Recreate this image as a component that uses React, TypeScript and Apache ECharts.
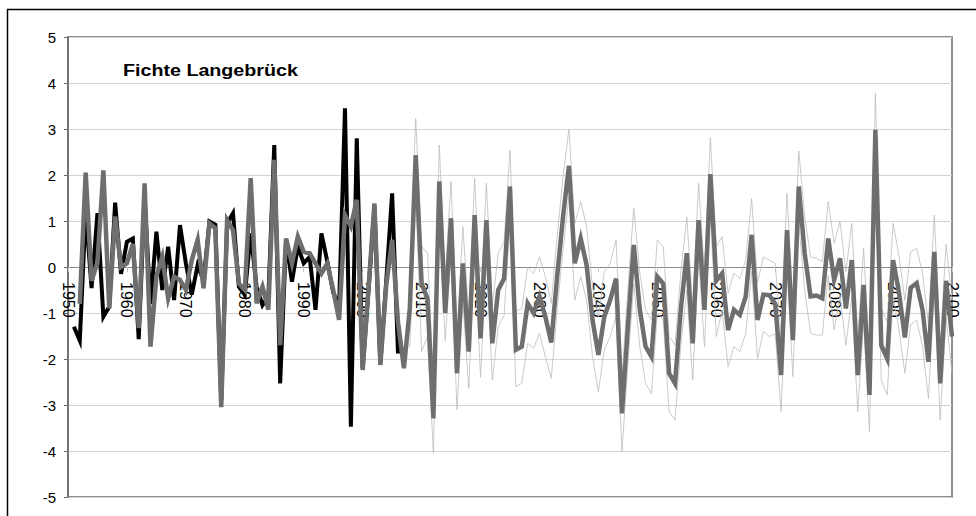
import React, { useEffect, useRef } from "react";
import * as echarts from "echarts";

const TITLE = "Fichte Langebrück";
const X_MIN = 1950;
const X_MAX = 2100;
const X_STEP = 10;
const Y_MIN = -5;
const Y_MAX = 5;
const Y_STEP = 1;

// observed series (black), 1951–2006
const OBS_START = 1951;
const observed = [
  -1.3, -1.6, 1.2, -0.46, 1.17, -1.08, -0.86, 1.4, -0.15, 0.55,
  0.62, -1.57, 1.5, -0.8, 0.77, -0.5, 0.44, -0.72, 0.91, 0.08,
  -0.6, 0.04, -0.3, 0.99, 0.92, -2.9, 0.95, 1.17, -0.43, -0.6,
  0.73, -0.43, -0.83, -0.64, 2.65, -2.53, 0.59, -0.32, 0.44, 0.08,
  0.22, -0.93, 0.73, 0.12, -0.55, -0.86, 3.45, -3.47, 2.8, -2.2,
  -0.5, 1.3, -2.1, -0.3, 1.6, -1.88,
];

// model mean (thick grey), 1952–2100
const MODEL_START = 1952;
const modelMean = [
  -0.8, 2.05, -0.3, 0.1, 2.1, -0.9, 1.1, 0.0, 0.08, 0.5,
  -1.33, 1.82, -1.73, -0.2, 0.22, -0.68, -0.21, -0.28, -0.5, 0.15,
  0.59, -0.46, 0.95, 0.84, -3.05, 1.02, 0.8, -0.36, -0.5, 1.93,
  -0.79, -0.43, -0.93, 2.33, -1.7, 0.62, 0.08, 0.66, 0.33, 0.3,
  0.08, -0.14, 0.08, -0.5, -1.15, 1.13, 0.88, 1.46, -2.24, -0.45,
  1.38, -2.13, -0.4, 0.59, -1.2, -2.2, -0.9, 2.43, -0.35, -0.7,
  -3.29, 1.86, -1.0, 1.06, -2.31, 0.08, -1.84, 1.13, -1.55, 1.02,
  -1.66, -0.5, -0.25, 1.75, -1.8, -1.73, -0.79, -1.0, -0.64, -1.08,
  -1.64, -0.21, 1.09, 2.2, 0.08, 0.62, 0.04, -1.15, -1.91, -1.08,
  -0.72, -0.25, -3.18, -1.3, 0.48, -0.9, -1.73, -1.95, -0.21, -0.36,
  -2.31, -2.53, -0.9, 0.3, -1.66, 1.02, -0.93, 2.02, -0.3, -0.14,
  -1.37, -0.93, -1.04, -0.64, 0.7, -1.15, -0.6, -0.61, -0.8, -2.35,
  0.8, -1.59, 1.75, 0.3, -0.64, -0.62, -0.68, 0.62, -0.28, 0.19,
  -0.9, 0.15, -2.35, -0.39, -2.78, 2.98, -1.7, -1.99, 0.15, -0.55,
  -1.53, -0.45, -0.35, -0.93, -2.06, 0.33, -2.53, -0.3, -1.51,
];

// model range (thin grey), 2008–2100
const RANGE_START = 2008;
const rangeUpper = [
  -0.1, 3.23, 0.45, 0.3, -2.45, 2.65, -0.2, 1.86, -1.5, 0.88,
  -1.05, 1.93, -0.75, 1.82, -0.86, 0.3, 0.55, 2.54, -0.97, -0.9,
  0.0, -0.14, 0.22, -0.21, -0.79, 0.66, 1.96, 3.0, 0.95, 1.42,
  0.88, -0.43, -1.08, -0.1, 0.08, 0.59, -2.38, -0.5, 1.28, -0.1,
  -0.93, -1.15, 0.59, 0.44, -1.51, -1.7, -0.1, 1.09, -0.86, 1.82,
  -0.13, 2.81, 0.44, 0.66, -0.57, -0.13, -0.25, 0.15, 1.49, -0.35,
  0.22, 0.15, 0.08, -1.55, 1.6, -0.79, 2.52, 1.1, 0.22, 0.19,
  0.12, 1.42, 0.52, 0.99, -0.1, 0.95, -1.55, 0.41, -1.98, 3.78,
  -0.9, -1.19, 0.95, 0.25, -0.73, 0.33, 0.41, -0.13, -1.26, 1.13,
  -1.73, 0.5, -0.71,
];
const rangeLower = [
  -1.75, 1.62, -1.84, -1.5, -4.05, 1.05, -1.6, 0.26, -3.1, -0.72,
  -2.64, 0.33, -2.4, 0.22, -2.46, -1.3, -1.05, 0.95, -2.6, -2.53,
  -1.66, -1.77, -1.44, -1.95, -2.42, -0.93, 0.37, 1.53, -0.72, -0.21,
  -0.72, -1.95, -2.71, -1.8, -1.51, -1.08, -4.01, -2.1, -0.36, -1.7,
  -2.53, -2.75, -1.0, -1.16, -3.14, -3.33, -1.7, -0.5, -2.46, 0.22,
  -1.73, 1.22, -1.51, -0.94, -2.17, -1.73, -1.84, -1.44, -0.1, -1.99,
  -1.4, -1.51, -1.45, -3.14, 0.0, -2.38, 0.95, -0.5, -1.44, -1.48,
  -1.48, -0.18, -1.37, -0.61, -1.7, -0.65, -3.14, -1.19, -3.58, 2.18,
  -2.46, -2.78, -0.65, -1.35, -2.31, -1.25, -1.15, -1.73, -2.86, -0.47,
  -3.33, -1.1, -2.31,
];

const toPairs = (start: number, vals: number[]) =>
  vals.map((v, i) => [start + i, v]);

const FONT = "'Liberation Sans', Arial, sans-serif";

const GRID_TOP = 37;
const GRID_HEIGHT = 460;

export default function App() {
  const ref = useRef<HTMLDivElement>(null);

  useEffect(() => {
    if (!ref.current) return;
    const chart = echarts.init(ref.current, undefined, { renderer: "svg" });
    const thinStyle = { color: "#bcbcbc", width: 0.8, join: "miter" as const };
    // x axis sits on the zero line: distance from the bottom of the grid
    const zeroOffset = -(GRID_HEIGHT * (0 - Y_MIN)) / (Y_MAX - Y_MIN);
    chart.setOption({
      animation: false,
      backgroundColor: "#ffffff",
      grid: {
        left: 68,
        top: GRID_TOP,
        width: 884,
        height: GRID_HEIGHT,
        show: true,
        borderColor: "#6a6a6a",
        borderWidth: 1.5,
        containLabel: false,
        outerBoundsMode: "none",
      },
      xAxis: {
        type: "value",
        min: X_MIN,
        max: X_MAX,
        interval: X_STEP,
        position: "bottom",
        offset: zeroOffset,
        axisLine: { onZero: false, lineStyle: { color: "#8a8a8a", width: 1 } },
        axisTick: { show: true, length: 5, lineStyle: { color: "#c8c8c8" } },
        axisLabel: {
          rotate: -90,
          margin: 15,
          fontSize: 16,
          color: "#000",
          fontFamily: FONT,
          formatter: (v: number) => String(v),
        },
        splitLine: { show: false },
      },
      yAxis: {
        type: "value",
        min: Y_MIN,
        max: Y_MAX,
        interval: Y_STEP,
        axisLine: { show: true, lineStyle: { color: "#6a6a6a", width: 1.5 } },
        axisTick: { show: true, length: 4, lineStyle: { color: "#6a6a6a" } },
        axisLabel: { margin: 12, fontSize: 15, color: "#000", fontFamily: FONT },
        splitLine: { lineStyle: { color: "#d4d4d4", width: 1 } },
      },
      series: [
        {
          type: "line",
          data: toPairs(RANGE_START, rangeUpper),
          symbol: "none",
          silent: true,
          lineStyle: thinStyle,
          z: 1,
        },
        {
          type: "line",
          data: toPairs(RANGE_START, rangeLower),
          symbol: "none",
          silent: true,
          lineStyle: thinStyle,
          z: 1,
        },
        {
          type: "line",
          data: toPairs(OBS_START, observed),
          symbol: "none",
          silent: true,
          lineStyle: { color: "#000000", width: 4, join: "miter", miterLimit: 5 },
          z: 2,
        },
        {
          type: "line",
          data: toPairs(MODEL_START, modelMean),
          symbol: "none",
          silent: true,
          lineStyle: { color: "#6e6e6e", width: 4.5, join: "miter", miterLimit: 5 },
          z: 3,
        },
      ],
      graphic: [
        {
          type: "line",
          shape: { x1: 7.5, y1: 9.5, x2: 7.5, y2: 520 },
          style: { stroke: "#000", lineWidth: 1.5 },
          silent: true,
        },
        {
          type: "line",
          shape: { x1: 7, y1: 9.5, x2: 980, y2: 9.5 },
          style: { stroke: "#000", lineWidth: 1.5 },
          silent: true,
        },
        {
          type: "text",
          x: 123,
          y: 71,
          scaleX: 1.23,
          style: {
            text: TITLE,
            fontFamily: FONT,
            fontWeight: "bold",
            fontSize: 16,
            fill: "#000",
            textVerticalAlign: "middle",
            textAlign: "left",
          },
          silent: true,
        },
      ],
    });
    return () => chart.dispose();
  }, []);

  return (
    <div
      ref={ref}
      style={{ position: "fixed", left: 0, top: 0, width: 976, height: 516, background: "#fff" }}
    />
  );
}
